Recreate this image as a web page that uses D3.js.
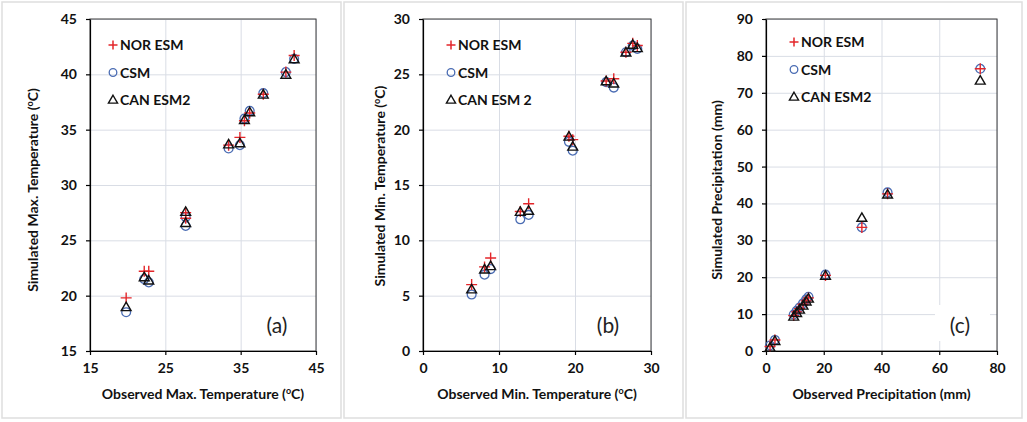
<!DOCTYPE html>
<html>
<head>
<meta charset="utf-8">
<script src="https://cdn.jsdelivr.net/npm/d3@7"></script>
<style>
  body { margin: 0; background: #fff; }
  text { font-family: Lato, "Open Sans", sans-serif; }
  .grid line { stroke: #d9dde5; stroke-width: 1; }
  .grid path { display: none; }
  .axis path, .axis line { stroke: #000; stroke-width: 1.2; }
  .axis text { font-weight: bold; font-size: 14px; fill: #111; }
  .title { font-weight: bold; font-size: 14px; fill: #111; }
  .legend text { font-weight: bold; font-size: 14px; fill: #111; }
</style>
</head>
<body>
<svg id="chart" width="1027" height="422"></svg>
<script>
// (a) max temperature, observed vs simulated
var tmaxObs = [19.8, 22.2, 22.8, 27.7, 27.7, 33.4, 34.9, 35.5, 36.2, 38.0, 41.0, 42.1];
var tmaxNor = [19.8, 22.2, 22.2, 27.5, 27.0, 33.6, 34.3, 35.8, 36.5, 38.2, 40.2, 41.7];
var tmaxCsm = [18.5, 21.5, 21.2, 27.1, 26.3, 33.3, 33.6, 36.0, 36.7, 38.3, 40.2, 41.4];
var tmaxCan = [19.0, 21.7, 21.4, 27.6, 26.6, 33.7, 33.8, 35.9, 36.6, 38.2, 40.0, 41.4];

// (b) min temperature
var tminObs = [6.4, 8.1, 8.9, 12.8, 13.9, 19.2, 19.7, 24.1, 25.1, 26.7, 27.6, 28.2];
var tminNor = [6.0, 7.6, 8.4, 12.6, 13.3, 19.4, 19.1, 24.4, 24.6, 27.0, 27.8, 27.6];
var tminCsm = [5.1, 6.9, 7.4, 11.9, 12.3, 18.9, 18.1, 24.3, 23.8, 27.0, 27.6, 27.3];
var tminCan = [5.6, 7.4, 7.7, 12.6, 12.7, 19.4, 18.5, 24.4, 24.2, 27.0, 27.7, 27.4];

// (c) precipitation
var precObs = [1.4, 3.1, 9.6, 10.6, 11.6, 12.8, 13.9, 14.7, 20.6, 33.2, 42.1, 74.2];
var precNor = [1.2, 3.0, 9.6, 10.6, 11.5, 12.6, 13.6, 14.4, 20.5, 33.5, 42.6, 76.5];
var precCsm = [1.5, 3.0, 9.9, 10.9, 11.8, 12.9, 14.0, 14.7, 20.7, 33.5, 43.0, 76.5];
var precCan = [1.0, 2.8, 9.4, 10.4, 11.3, 12.4, 13.5, 14.3, 20.5, 36.2, 42.5, 73.4];

var tmaxXTicks = [15, 25, 35, 45];
var tmaxYTicks = [15, 20, 25, 30, 35, 40, 45];
var tminXTicks = [0, 10, 20, 30];
var tminYTicks = [0, 5, 10, 15, 20, 25, 30];
var precXTicks = [0, 20, 40, 60, 80];
var precYTicks = [0, 10, 20, 30, 40, 50, 60, 70, 80, 90];

var seriesNames = ['NOR ESM', 'CSM', 'CAN ESM2'];

var svg = d3.select('#chart');

var PLUS = 'M-5.5,0H5.5M0,-5.5V5.5';
var triangle = d3.symbol().type(d3.symbolTriangle).size(42)();
var triangleSmall = d3.symbol().type(d3.symbolTriangle).size(36)();

var markers = {
    nor: function (g) {
        return g.append('path').attr('d', PLUS)
            .attr('stroke', '#e3262a').attr('stroke-width', 1.4).attr('fill', 'none');
    },
    csm: function (g, r) {
        return g.append('circle').attr('r', r || 4.4)
            .attr('stroke', '#4a6cb3').attr('stroke-width', 1.3).attr('fill', 'none');
    },
    can: function (g, small) {
        return g.append('path').attr('d', small ? triangleSmall : triangle)
            .attr('stroke', '#111').attr('stroke-width', 1.4).attr('fill', 'none');
    }
};

var addTitle = function (g, parts, x, y, rotate) {
    var t = g.append('text').classed('title', true)
        .attr('text-anchor', 'middle')
        .attr('transform', 'translate(' + x + ',' + y + ')' + (rotate ? 'rotate(-90)' : ''));
    parts.forEach(function (p) {
        if (p.sup) {
            t.append('tspan').attr('dy', -5).attr('font-size', 9).text(p.sup);
            t.append('tspan').attr('dy', 5).text(p.after);
        } else {
            t.append('tspan').text(p.text);
        }
    });
};

var drawPanel = function (p) {
    // panel frame
    svg.append('rect')
        .attr('x', p.frame[0]).attr('y', 2)
        .attr('width', p.frame[1] - p.frame[0]).attr('height', 416)
        .attr('fill', 'none').attr('stroke', '#dedede').attr('stroke-width', 1.5);

    var xScale = d3.scaleLinear().domain(p.xDomain).range([p.left, p.right]);
    var yScale = d3.scaleLinear().domain(p.yDomain).range([351, 19]);
    var w = p.right - p.left, h = 351 - 19;

    svg.append('g').classed('grid', true)
        .attr('transform', 'translate(0,351)')
        .call(d3.axisBottom(xScale).tickValues(p.xTicks).tickSize(-h).tickFormat(''));
    svg.append('g').classed('grid', true)
        .attr('transform', 'translate(' + p.left + ',0)')
        .call(d3.axisLeft(yScale).tickValues(p.yTicks).tickSize(-w).tickFormat(''));

    if (p.labelBox) {
        svg.append('rect').attr('x', p.labelBox[0]).attr('y', p.labelBox[1])
            .attr('width', p.labelBox[2]).attr('height', p.labelBox[3]).attr('fill', '#fff');
    }

    svg.append('rect')
        .attr('x', p.left).attr('y', 19).attr('width', w).attr('height', h)
        .attr('fill', 'none').attr('stroke', '#3a3a3a').attr('stroke-width', 1);

    svg.append('g').classed('axis', true)
        .attr('transform', 'translate(0,351)')
        .call(d3.axisBottom(xScale).tickValues(p.xTicks).tickSize(4).tickPadding(8).tickSizeOuter(0));
    svg.append('g').classed('axis', true)
        .attr('transform', 'translate(' + p.left + ',0)')
        .call(d3.axisLeft(yScale).tickValues(p.yTicks).tickSize(4).tickPadding(9).tickSizeOuter(0));

    // points
    var pts = svg.append('g');
    p.obs.forEach(function (x, i) {
        markers.csm(pts).attr('transform', 'translate(' + xScale(x) + ',' + yScale(p.csm[i]) + ')');
    });
    p.obs.forEach(function (x, i) {
        markers.nor(pts).attr('transform', 'translate(' + xScale(x) + ',' + yScale(p.nor[i]) + ')');
    });
    p.obs.forEach(function (x, i) {
        markers.can(pts).attr('transform', 'translate(' + xScale(x) + ',' + (yScale(p.can[i]) + 1) + ')');
    });

    // legend
    var lg = svg.append('g').classed('legend', true);
    p.legendNames.forEach(function (name, i) {
        var y = p.legend[1] + i * 27.5;
        var sx = p.legend[0];
        var m;
        if (i === 0) m = lg.append('path').attr('d', 'M-4.5,0H4.5M0,-4.5V4.5')
            .attr('stroke', '#e3262a').attr('stroke-width', 1.5).attr('fill', 'none');
        if (i === 1) m = markers.csm(lg, 3.8);
        if (i === 2) m = markers.can(lg, true);
        m.attr('transform', 'translate(' + sx + ',' + (y + (i === 2 ? 0.5 : 0)) + ')');
        lg.append('text').attr('x', sx + 7).attr('y', y + 5).text(name);
    });

    svg.append('text')
        .attr('x', p.tag[0]).attr('y', p.tag[1])
        .attr('text-anchor', 'middle')
        .attr('font-size', 21).attr('fill', '#222')
        .text(p.tagText);

    addTitle(svg, p.xTitle, (p.left + p.right) / 2, 399, false);
    addTitle(svg, p.yTitle, p.yTitleX, p.yTitleY, true);
};

drawPanel({
    frame: [2, 341], left: 90, right: 316,
    xDomain: [15, 45], yDomain: [15, 45], xTicks: tmaxXTicks, yTicks: tmaxYTicks,
    obs: tmaxObs, nor: tmaxNor, csm: tmaxCsm, can: tmaxCan,
    legendNames: seriesNames, legend: [113, 45],
    tag: [277, 333], tagText: '(a)',
    xTitle: [{text: 'Observed Max. Temperature ('}, {sup: 'o', after: 'C)'}],
    yTitle: [{text: 'Simulated Max. Temperature  ('}, {sup: 'o', after: 'C)'}],
    yTitleX: 38, yTitleY: 190
});

drawPanel({
    frame: [344, 683], left: 423, right: 651,
    xDomain: [0, 30], yDomain: [0, 30], xTicks: tminXTicks, yTicks: tminYTicks,
    obs: tminObs, nor: tminNor, csm: tminCsm, can: tminCan,
    legendNames: ['NOR ESM', 'CSM', 'CAN ESM 2'], legend: [451, 45],
    tag: [608, 333], tagText: '(b)',
    xTitle: [{text: 'Observed Min. Temperature ('}, {sup: 'o', after: 'C)'}],
    yTitle: [{text: 'Simulated Min. Temperature  ('}, {sup: 'o', after: 'C)'}],
    yTitleX: 385, yTitleY: 186
});

drawPanel({
    frame: [686, 1022], left: 766, right: 997,
    xDomain: [0, 80], yDomain: [0, 90], xTicks: precXTicks, yTicks: precYTicks,
    obs: precObs, nor: precNor, csm: precCsm, can: precCan,
    legendNames: seriesNames, legend: [794, 42],
    labelBox: [935, 305, 55, 36],
    tag: [960, 333], tagText: '(c)',
    xTitle: [{text: 'Observed Precipitation (mm)'}],
    yTitle: [{text: 'Simulated Precipitation (mm)'}],
    yTitleX: 722, yTitleY: 190
});
</script>
</body>
</html>
